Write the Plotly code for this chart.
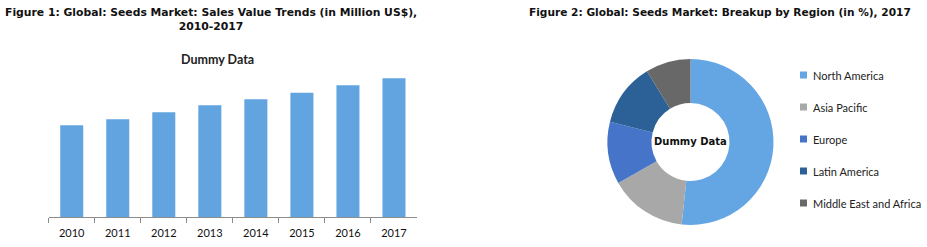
import plotly.graph_objects as go

W, H = 927, 247

years = ["2010", "2011", "2012", "2013", "2014", "2015", "2016", "2017"]
sales = [91.7, 97.7, 104.7, 111.7, 117.7, 124.3, 131.7, 138.7]

regions = ["North America", "Asia Pacific", "Europe", "Latin America", "Middle East and Africa"]
shares = [51.7, 15.1, 12.1, 12.3, 8.8]
region_colors = ["#64A5E4", "#A8A8A8", "#4674C8", "#2C6198", "#686868"]

bar_color = "#62A4E0"

def px(x):
    return x / W

def py(y):
    return (H - y) / H

fig = go.Figure()

fig.add_trace(go.Bar(
    x=years, y=sales, marker=dict(color=bar_color, line=dict(width=0)),
    width=0.5, showlegend=False, hoverinfo="skip", xaxis="x", yaxis="y",
))

fig.add_trace(go.Pie(
    labels=regions, values=shares, hole=0.47, sort=False, direction="clockwise",
    rotation=0, marker=dict(colors=region_colors, line=dict(width=0)),
    textinfo="none", showlegend=False, hoverinfo="skip",
    domain=dict(x=[px(607.5), px(773.5)], y=[py(225), py(59)]),
))

# legend drawn beside the donut, one row per region
annotations = []
shapes = []
leg_x, leg_y0, leg_dy = 800, 75, 32
for i, (name, col) in enumerate(zip(regions, region_colors)):
    yc = leg_y0 + i * leg_dy
    shapes.append(dict(type="rect", xref="paper", yref="paper",
                       x0=px(leg_x), x1=px(leg_x + 7), y0=py(yc + 3.5), y1=py(yc - 3.5),
                       fillcolor=col, line=dict(width=0)))
    annotations.append(dict(text=name, x=px(leg_x + 11), y=py(yc), xref="paper", yref="paper",
                            xanchor="left", yanchor="middle", showarrow=False,
                            font=dict(family="Lato", size=11, color="#222222")))

annotations += [
    dict(text="Figure 1: Global: Seeds Market: Sales Value Trends (in Million US$),<br>2010-2017",
         x=px(211), y=py(4), xref="paper", yref="paper", xanchor="center", yanchor="top",
         showarrow=False, align="center",
         font=dict(family="DejaVu Sans", size=10.8, color="#111111", weight="bold")),
    dict(text="Figure 2: Global: Seeds Market: Breakup by Region (in %), 2017",
         x=px(720), y=py(4), xref="paper", yref="paper", xanchor="center", yanchor="top",
         showarrow=False,
         font=dict(family="DejaVu Sans", size=10.6, color="#111111", weight="bold")),
    dict(text="Dummy Data", x=px(217), y=py(60), xref="paper", yref="paper",
         xanchor="center", yanchor="middle", showarrow=False,
         font=dict(family="Lato", size=12.5, color="#222222", weight="bold")),
    dict(text="Dummy Data", x=px(690.8), y=py(141), xref="paper", yref="paper",
         xanchor="center", yanchor="middle", showarrow=False,
         font=dict(family="DejaVu Sans", size=10, color="#111111", weight="bold")),
]

fig.update_layout(
    width=W, height=H, margin=dict(l=0, r=0, t=0, b=0, autoexpand=False),
    paper_bgcolor="white", plot_bgcolor="white",
    showlegend=False,
    xaxis=dict(
        domain=[px(48.7), px(417)], type="category", categoryorder="array",
        categoryarray=years, showgrid=False, showline=True, linecolor="#8C8C8C",
        linewidth=1, ticks="outside", tickson="boundaries", ticklen=5,
        tickcolor="#8C8C8C", tickfont=dict(family="Lato", size=11, color="#111111"),
        ticklabelstandoff=6, fixedrange=True,
    ),
    yaxis=dict(
        domain=[py(217), py(67)], range=[0, 150], showgrid=False, showline=False,
        zeroline=False, showticklabels=False, ticks="",
    ),
    annotations=annotations,
    shapes=shapes,
)

fig.write_html("out.html")
